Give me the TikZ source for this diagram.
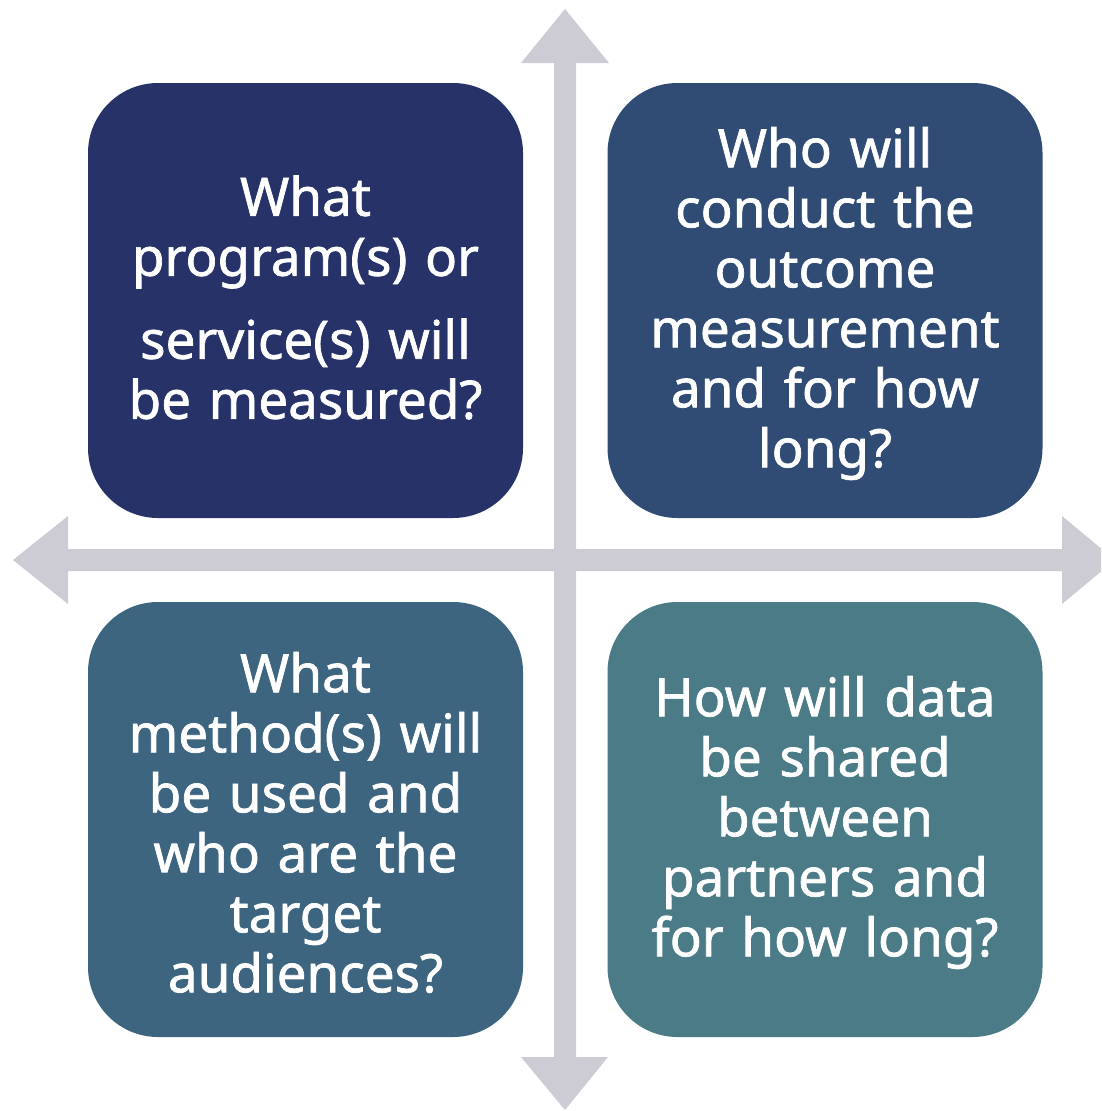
\documentclass[tikz,border=0pt]{standalone}
\usepackage{fontspec}
\setmainfont{Noto Sans}
\newfontfamily\qfont{Noto Sans}[FakeBold=1.3]
\definecolor{boxA}{HTML}{263268}
\definecolor{boxB}{HTML}{304C74}
\definecolor{boxC}{HTML}{3E6580}
\definecolor{boxD}{HTML}{4A7B86}
\definecolor{axisgray}{HTML}{CDCCD4}
\begin{document}
\begin{tikzpicture}[x=1pt,y=-1pt,
  quad/.style={rounded corners=70pt, minimum width=435pt, minimum height=435pt,
    inner sep=0pt, draw=none},
  qtext/.style={text=white, align=center, text width=420pt, inner sep=0pt,
    font=\qfont\fontsize{53}{60}\selectfont},
  axis/.style={fill=axisgray, draw=none}]
\useasboundingbox (0,0) rectangle (1101,1111);
\clip (0,0) rectangle (1101,1111);
% crossing double-headed axes
\coordinate (centre) at (565,560);
\path[axis] (13,560) -- (68,516) -- (68,549) -- (1062,549) -- (1062,516)
  -- (1115,560) -- (1062,604) -- (1062,571) -- (68,571) -- (68,604) -- cycle;
\path[axis] (565,9) -- (609,63) -- (576,63) -- (576,1057) -- (608,1057)
  -- (565,1110) -- (521,1057) -- (554,1057) -- (554,63) -- (521,63) -- cycle;
% four question boxes
\node[quad, fill=boxA] (tl) at (305.5,300.5) {};
\node[quad, fill=boxB] (tr) at (825,300.5) {};
\node[quad, fill=boxC] (bl) at (305.5,819.5) {};
\node[quad, fill=boxD] (br) at (825,819.5) {};
% their questions
\node[qtext, yshift=3pt] (tl-q) at (tl.center)
  {What\\program(s) or\\[23pt]service(s) will\\be measured?};
\node[qtext, yshift=-3pt] (tr-q) at (tr.center)
  {Who will\\conduct the\\outcome\\measurement\\and for how\\long?};
\node[qtext, yshift=-3pt] (bl-q) at (bl.center)
  {What\\method(s) will\\be used and\\who are the\\target\\audiences?};
\node[qtext, yshift=-3pt] (br-q) at (br.center)
  {How will data\\be shared\\between\\partners and\\for how long?};
\end{tikzpicture}
\end{document}
